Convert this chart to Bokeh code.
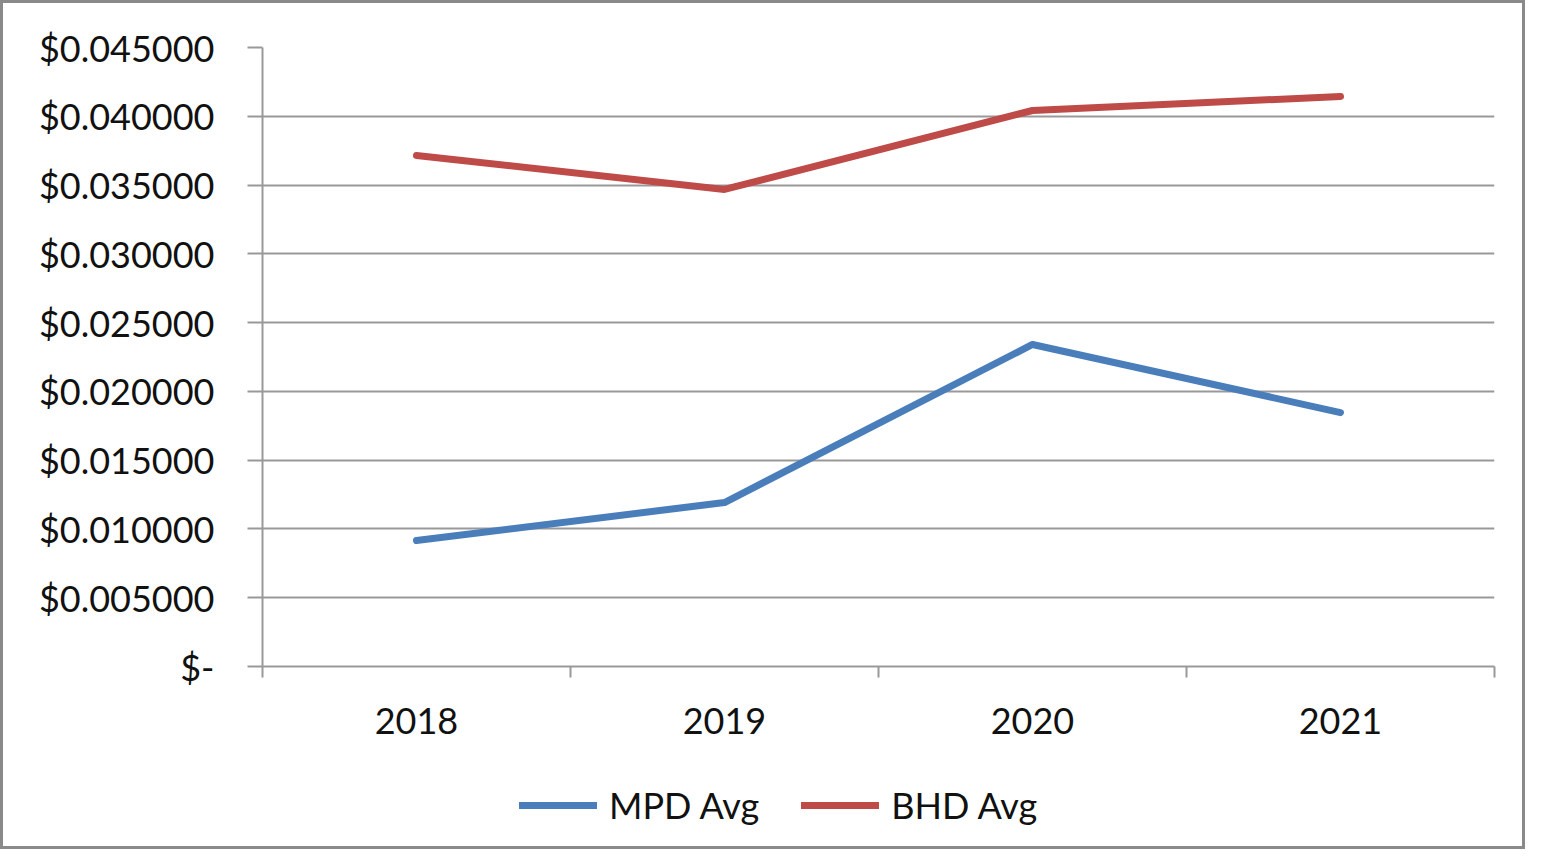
from bokeh.plotting import figure
from bokeh.layouts import column
from bokeh.models import Range1d, FixedTicker, Legend, LegendItem
from bokeh.embed import file_html
from bokeh.resources import INLINE

years = ["2018", "2019", "2020", "2021"]
mpd_avg = [0.00916, 0.01192, 0.02341, 0.01846]
bhd_avg = [0.03715, 0.03468, 0.04042, 0.04144]
y_ticks = [0.0, 0.005, 0.010, 0.015, 0.020, 0.025, 0.030, 0.035, 0.040, 0.045]
y_labels = ["$-", "$0.005000", "$0.010000", "$0.015000", "$0.020000",
            "$0.025000", "$0.030000", "$0.035000", "$0.040000", "$0.045000"]

FONT = "Lato"
GRID = "#999999"
FS = "36px"
BLUE = "#4a7ebb"
RED = "#be4b48"
W = 1519

xs = [i + 0.5 for i in range(len(years))]

p = figure(width=W, height=765, output_backend="svg", toolbar_location=None,
           x_range=Range1d(0, len(years)), y_range=Range1d(0, 0.045),
           min_border_left=259, min_border_right=28, min_border_top=44, min_border_bottom=102)
p.outline_line_color = None
p.background_fill_color = "white"
p.border_fill_color = "white"

p.line(xs, mpd_avg, line_color=BLUE, line_width=7, line_cap="round", line_join="round")
p.line(xs, bhd_avg, line_color=RED, line_width=7, line_cap="round", line_join="round")

# x axis
p.xaxis.ticker = FixedTicker(ticks=xs, minor_ticks=list(range(len(years) + 1)))
p.xaxis.major_label_overrides = {x: y for x, y in zip(xs, years)}
p.xaxis.major_tick_out = 0
p.xaxis.major_tick_in = 0
p.xaxis.minor_tick_out = 11
p.xaxis.minor_tick_in = 0
p.xaxis.minor_tick_line_color = GRID
p.xaxis.minor_tick_line_width = 2
p.xaxis.axis_line_color = GRID
p.xaxis.axis_line_width = 2
p.xaxis.major_label_text_font = FONT
p.xaxis.major_label_text_font_size = FS
p.xaxis.major_label_text_color = "#111111"
p.xaxis.major_label_standoff = 30
p.xgrid.visible = False

# y axis
p.yaxis.ticker = FixedTicker(ticks=y_ticks, minor_ticks=[])
p.yaxis.major_label_overrides = {t: l for t, l in zip(y_ticks, y_labels)}
p.yaxis.major_tick_out = 15
p.yaxis.major_tick_in = 0
p.yaxis.major_tick_line_color = GRID
p.yaxis.major_tick_line_width = 2
p.yaxis.minor_tick_line_color = None
p.yaxis.axis_line_color = GRID
p.yaxis.axis_line_width = 2
p.yaxis.major_label_text_font = FONT
p.yaxis.major_label_text_font_size = FS
p.yaxis.major_label_text_color = "#111111"
p.yaxis.major_label_standoff = 33
p.ygrid.grid_line_color = GRID
p.ygrid.grid_line_width = 2

# legend strip (series drawn outside its visible range; only the legend shows)
lg = figure(width=W, height=78, output_backend="svg", toolbar_location=None,
            x_range=Range1d(0, len(years)), y_range=Range1d(1, 2),
            min_border_left=0, min_border_right=0, min_border_top=0, min_border_bottom=0)
lg.axis.visible = False
lg.grid.visible = False
lg.outline_line_color = None
lg.border_fill_color = "white"
lg.background_fill_color = "white"
l1 = lg.line(xs, mpd_avg, line_color=BLUE, line_width=7, line_cap="round")
l2 = lg.line(xs, bhd_avg, line_color=RED, line_width=7, line_cap="round")
legend = Legend(items=[LegendItem(label="MPD Avg", renderers=[l1]),
                       LegendItem(label="BHD Avg", renderers=[l2])],
                orientation="horizontal", location=(257, 19),
                glyph_width=78, glyph_height=30, label_standoff=12, spacing=42,
                label_text_font=FONT, label_text_font_size=FS, label_text_color="#111111",
                border_line_color=None, background_fill_alpha=0, margin=0, padding=5)
lg.add_layout(legend, "center")

layout = column(p, lg, spacing=0,
                styles={"border": "3px solid #8a8a8a", "background-color": "white"})

open("out.html", "w").write(file_html(layout, INLINE))
